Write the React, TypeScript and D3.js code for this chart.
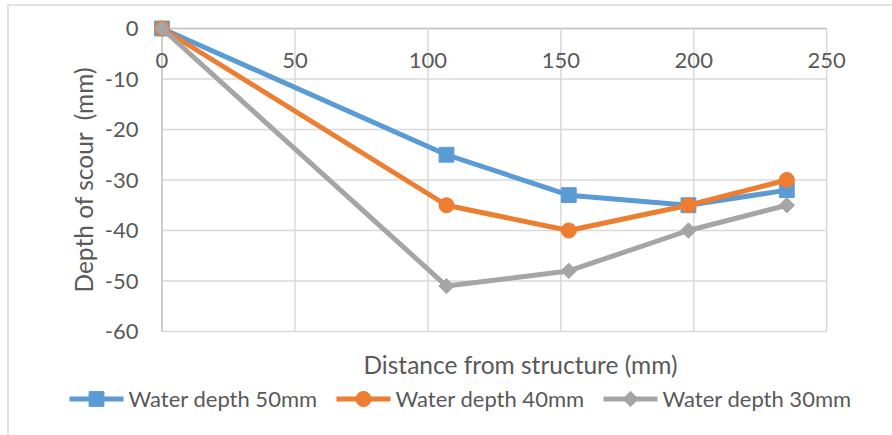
import React from 'react'
import * as d3 from 'd3'

// data
const distance = [0, 107, 153, 198, 235]
const depth50 = [0, -25, -33, -35, -32]
const depth40 = [0, -35, -40, -35, -30]
const depth30 = [0, -51, -48, -40, -35]
const seriesNames = ['Water depth 50mm', 'Water depth 40mm', 'Water depth 30mm']
const xTicks = [0, 50, 100, 150, 200, 250]
const yTicks = [0, -10, -20, -30, -40, -50, -60]

const width = 892, height = 435
const font = 'Lato, Carlito, Calibri, sans-serif'
const textColor = '#595959'
const colors = ['#5B9BD5', '#ED7D31', '#A5A5A5']
const shapes = [d3.symbolSquare, d3.symbolCircle, d3.symbolDiamond2]
const sizes = [220, 180, 150]

function Marker({ i, x, y }: { i: number, x: number, y: number }) {
  const path = d3.symbol().type(shapes[i]).size(sizes[i])() as string
  return <path d={path} transform={`translate(${x},${y})`} fill={colors[i]} stroke={colors[i]} strokeWidth={1} />
}

export default function App() {
  const x = d3.scaleLinear().domain([0, 250]).range([162, 826.7])
  const y = d3.scaleLinear().domain([-60, 0]).range([331.5, 28.5])

  const series = [depth50, depth40, depth30]
  const line = d3.line<number>()
    .x((_, i) => x(distance[i]))
    .y(d => y(d))

  const legendX = (i: number) => 69.5 + i * 267
  const legendY = 399

  return (
    <svg width={width} height={height} style={{ position: 'absolute', left: 0, top: 0, background: '#fff' }}
      fontFamily={font}>
      <rect x={8} y={5} width={910} height={460} fill="#fff" stroke="#D9D9D9" strokeWidth={1.5} />

      {/* gridlines */}
      {yTicks.map(t => (
        <line key={'gy' + t} x1={x(0)} x2={x(250)} y1={y(t)} y2={y(t)}
          stroke={t === 0 ? '#BFBFBF' : '#D9D9D9'} strokeWidth={1.5} />
      ))}
      {xTicks.map(t => (
        <line key={'gx' + t} x1={x(t)} x2={x(t)} y1={y(0)} y2={y(-60)}
          stroke={t === 0 ? '#BFBFBF' : '#D9D9D9'} strokeWidth={1.5} />
      ))}

      {/* tick labels */}
      {yTicks.map(t => (
        <text key={'ly' + t} x={138.5} y={y(t)} dy="0.35em" textAnchor="end"
          fontSize={22} fill={textColor}>{t}</text>
      ))}
      {xTicks.map(t => (
        <text key={'lx' + t} x={x(t)} y={68} textAnchor="middle"
          fontSize={22} fill={textColor}>{t}</text>
      ))}

      {/* axis titles */}
      <text transform="translate(93,180) rotate(-90)" textAnchor="middle" fontSize={24.5} fill={textColor}
        style={{ whiteSpace: 'pre' }}>
        {'Depth of scour  (mm)'}
      </text>
      <text x={520.5} y={374} textAnchor="middle" fontSize={24.5} fill={textColor}>
        Distance from structure (mm)
      </text>

      {/* series */}
      {series.map((s, i) => (
        <g key={'s' + i}>
          <path d={line(s) as string} fill="none" stroke={colors[i]} strokeWidth={5} strokeLinejoin="round" strokeLinecap="round" />
          {s.map((v, j) => <Marker key={j} i={i} x={x(distance[j])} y={y(v)} />)}
        </g>
      ))}

      {/* legend */}
      {seriesNames.map((n, i) => (
        <g key={'lg' + i}>
          <line x1={legendX(i)} x2={legendX(i) + 54} y1={legendY} y2={legendY} stroke={colors[i]} strokeWidth={5} />
          <Marker i={i} x={legendX(i) + 27} y={legendY} />
          <text x={legendX(i) + 59} y={legendY + 7.5} fontSize={22} fill={textColor}>{n}</text>
        </g>
      ))}
    </svg>
  )
}
